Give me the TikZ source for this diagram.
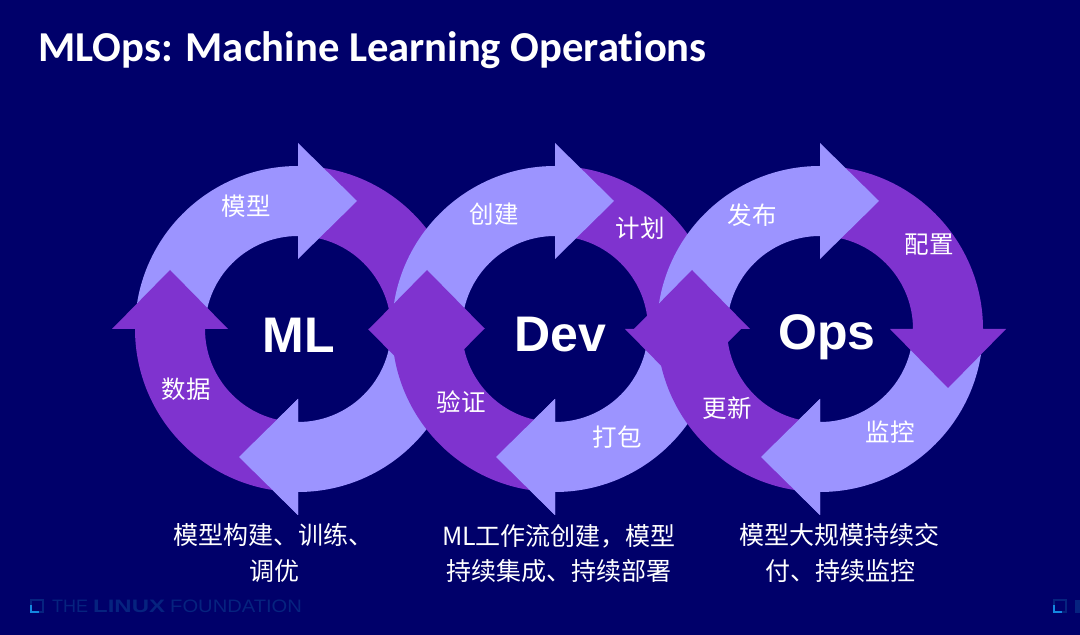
\documentclass[tikz,border=0pt]{standalone}
\usepackage{fontspec}
\usepackage{graphicx}
\setmainfont{Liberation Sans}
\newfontfamily\cjkf{Noto Sans CJK SC}
\newfontfamily\titlef[Ligatures=NoCommon]{Carlito}
\definecolor{bgnavy}{HTML}{00006A}
\definecolor{lightarc}{HTML}{9C94FF}
\definecolor{purplearc}{HTML}{7F33CF}
\definecolor{wmdim}{HTML}{06237F}
\definecolor{wmbright}{HTML}{1487E0}
\tikzset{
  lightseg/.style={fill=lightarc,draw=none},
  purpleseg/.style={fill=purplearc,draw=none},
  steplabel/.style={text=white,font=\cjkf\fontsize{24.5}{24.5}\selectfont,inner sep=0pt,anchor=center},
  ringname/.style={text=white,font=\bfseries\fontsize{50}{50}\selectfont,inner sep=0pt,anchor=center},
  caption/.style={text=white,font=\cjkf\fontsize{25}{25}\selectfont,inner sep=0pt,anchor=center},
  wmtext/.style={text=wmdim,inner sep=0pt,anchor=west,font=\fontsize{18}{18}\selectfont},
}
% quarter-ring arrow, pointing clockwise; centred on the origin, head at the top
\newcommand{\ringarrow}{(175:93) arc[start angle=175,end angle=90,radius=93] -- (0,70) -- (59,128) -- (0,186) -- (0,163) arc[start angle=90,end angle=175,radius=163] -- cycle}
\newcommand{\ringhead}{(0,70) -- (59,128) -- (0,186) -- cycle}
% one ring: #1 x-centre
\newcommand{\drawring}[1]{%
  \begin{scope}[shift={(#1,306)}]
    \fill[lightseg,rotate=180] \ringarrow;
    \fill[purpleseg,rotate=-90] \ringarrow;
    \fill[lightseg] \ringarrow;
    \fill[purpleseg,rotate=90] \ringarrow;
    \fill[lightseg,rotate=180] \ringhead;
  \end{scope}}
\newcommand{\wmlogo}[2]{%
  \draw[wmdim,line width=2.6] (#1,#2) rectangle ++(12,12);
  \draw[wmbright,line width=2.6] (#1,#2+7) -- (#1,#2) -- (#1+8,#2);}
\begin{document}
\begin{tikzpicture}[x=1pt,y=1pt]
  \useasboundingbox (0,0) rectangle (1080,635);
  \fill[bgnavy] (0,0) rectangle (1080,635);
  \node[anchor=base west,inner sep=0pt,text=white,font=\titlef\bfseries\fontsize{42.6}{43}\selectfont] (title) at (38,573) {MLOps: Machine Learning Operations};

  \drawring{298}
  \drawring{555}
  \drawring{820}

  \node[ringname] (ml) at (299,300) {ML};
  \node[ringname] (dev) at (560,300) {Dev};
  \node[ringname] (ops) at (827,298) {Ops};

  \node[steplabel] (s1) at (246,429) {模型};
  \node[steplabel] (s2) at (186,246) {数据};
  \node[steplabel] (s3) at (494,421) {创建};
  \node[steplabel] (s4) at (640,407) {计划};
  \node[steplabel] (s5) at (617,198) {打包};
  \node[steplabel] (s6) at (461,233) {验证};
  \node[steplabel] (s7) at (752,420) {发布};
  \node[steplabel] (s8) at (929,390) {配置};
  \node[steplabel] (s9) at (890,203) {监控};
  \node[steplabel] (s10) at (727,227) {更新};

  \node[caption] (c1a) at (273,100) {模型构建、训练、};
  \node[caption] (c1b) at (274,64) {调优};
  \node[caption] (c2a) at (559,99) {ML工作流创建，模型};
  \node[caption] (c2b) at (559,64) {持续集成、持续部署};
  \node[caption] (c3a) at (839,100) {模型大规模持续交};
  \node[caption] (c3b) at (840,64) {付、持续监控};

  \wmlogo{31}{23}
  \node[wmtext] (w1) at (52,29) {THE};
  \node[wmtext] (w2) at (93,29) {\scalebox{1.33}[1]{\bfseries LINUX}};
  \node[wmtext] (w3) at (170,29) {\scalebox{1.12}[1]{FOUNDATION}};
  \wmlogo{1054}{23}
  \fill[wmdim] (1075,22) rectangle (1080,35);
\end{tikzpicture}
\end{document}
